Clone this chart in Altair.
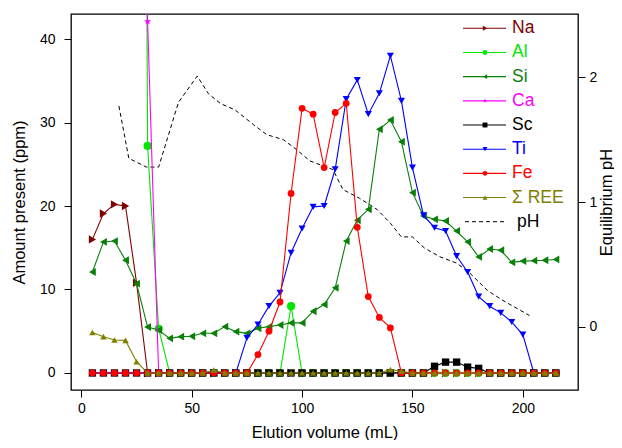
import altair as alt
import pandas as pd

# ---------------- data ----------------
volume = [5, 10, 15, 20, 25, 30, 35, 40, 45, 50, 55, 60, 65, 70, 75, 80, 85, 90, 95, 100,
          105, 110, 115, 120, 125, 130, 135, 140, 145, 150, 155, 160, 165, 170, 175, 180,
          185, 190, 195, 200, 205, 210, 215]

series_names = ["Na", "Al", "Si", "Ca", "Sc", "Ti", "Fe", "Σ REE"]

na = [16.0, 19.1, 20.2, 20.0, 10.8] + [0] * 38
al = [None, None, None, None, 300, 27.2, 5.3, 0, 0, 0, 0, 0, 0, 0, 0, 0, 0, 0, 8.0, 0] + [0] * 23
si = [12.1, 15.7, 15.8, 13.5, 10.7, 5.5, 5.15, 4.15, 4.35, 4.4,
      4.75, 4.75, 5.55, 4.95, 4.75, 5.35, 5.55, 5.75, 6.0, 6.0,
      7.4, 8.2, 10.2, 15.8, 18.3, 19.6, 29.2, 30.3, 27.7, 21.6,
      18.8, 18.4, 18.2, 17.0, 15.7, 13.9, 14.85, 14.7, 13.25, 13.4,
      13.45, 13.5, 13.6]
ca = [None, None, None, None, 300, 42.1] + [0] * 37
sc = [0] * 31 + [0.8, 1.3, 1.3, 0.7, 0.55] + [0] * 7
ti = [0] * 14 + [4.2, 5.8, 8.0, 9.6, 14.4, 17.3, 19.9, 20.0, 24.4, 32.8,
                 35.1, 31.0, 33.5, 38.0, 32.6, 24.6, 18.9, 17.4, 17.0, 14.0,
                 12.1, 9.15, 8.0, 7.2, 6.1, 4.6] + [0, 0, 0]
fe = [0] * 15 + [2.2, 5.0, 8.5, 21.5, 31.7, 31.0, 24.6, 31.2, 32.3, 17.45,
                 9.15, 6.65, 5.4] + [0] * 15
ree = [4.85, 4.35, 3.95, 3.9, 1.35, 0, 0, 0, 0, 0, 0, 0.35] + [0] * 15 + [0.4, 0.2] + [0] * 14

ph_volume = [17, 21.5, 29.5, 35, 44, 52.5, 57.5, 63, 69.5, 78, 84, 91.5, 97.5, 103.5,
             114, 118.5, 126, 134, 140, 145, 150, 155.5, 162.5, 170, 176, 184, 191, 197, 203]
ph_values = [1.77, 1.35, 1.28, 1.28, 1.80, 2.01, 1.87, 1.79, 1.74, 1.62, 1.54, 1.50, 1.42, 1.33,
             1.26, 1.10, 1.03, 0.94, 0.83, 0.72, 0.72, 0.63, 0.56, 0.51, 0.43, 0.29, 0.21, 0.15, 0.09]

x_ticks = [0, 50, 100, 150, 200]
y_ticks = [0, 10, 20, 30, 40]
ph_ticks = [0, 1, 2]

# ---------------- styles ----------------
FONT = "Liberation Sans"
colors = ["#800000", "#00e600", "#0a800a", "#ff00ff", "#000000", "#0000ff", "#ff0000", "#808000"]
STAR = "M0,-1L0.2245,-0.309L0.951,-0.309L0.363,0.118L0.588,0.809L0,0.382L-0.588,0.809L-0.363,0.118L-0.951,-0.309L-0.2245,-0.309Z"
shapes = ["triangle-right", "circle", "triangle-left", STAR, "square", "triangle-down", "circle", "triangle-up"]
sizes = [70, 42, 70, 70, 24, 70, 42, 70]

legend_names = series_names + ["pH"]

values_by_series = [na, al, si, ca, sc, ti, fe, ree]
rows = []
for name, vals in zip(series_names, values_by_series):
    for v, a in zip(volume, vals):
        if a is not None:
            rows.append({"volume": v, "amount": a, "series": name})
df = pd.DataFrame(rows)
ph_df = pd.DataFrame({"volume": ph_volume, "pH": ph_values})
leg_df = pd.DataFrame({"series": legend_names, "label": legend_names})

x_scale = alt.Scale(domain=[-4.7, 225], nice=False, zero=False)
x_enc = alt.X("volume:Q", scale=x_scale,
              axis=alt.Axis(values=x_ticks, title="Elution volume (mL)", labelPadding=4, titlePadding=9))
y_enc = alt.Y("amount:Q", scale=alt.Scale(domain=[-2.04, 43.0], nice=False, zero=False),
              axis=alt.Axis(values=y_ticks, title="Amount present (ppm)", orient="left",
                            labelPadding=9, titlePadding=12))
color_enc = alt.Color("series:N", scale=alt.Scale(domain=legend_names, range=colors + ["#000000"]), legend=None)
shape_enc = alt.Shape("series:N", scale=alt.Scale(domain=series_names, range=shapes), legend=None)
size_enc = alt.Size("series:N", scale=alt.Scale(domain=series_names, range=sizes), legend=None)

series_layers = []
for name in series_names:
    base = alt.Chart(df).transform_filter(alt.datum.series == name)
    series_layers.append(base.mark_line(strokeWidth=1.1, clip=True).encode(x=x_enc, y=y_enc, color=color_enc))
    series_layers.append(base.mark_point(filled=True, opacity=1, clip=True).encode(
        x=x_enc, y=y_enc, color=color_enc, shape=shape_enc, size=size_enc))
series_chart = alt.layer(*series_layers)

ph_chart = alt.Chart(ph_df).mark_line(strokeDash=[4, 3], strokeWidth=1, color="black", clip=True).encode(
    x=alt.X("volume:Q", scale=x_scale),
    y=alt.Y("pH:Q", scale=alt.Scale(domain=[-0.508, 2.508], nice=False, zero=False),
            axis=alt.Axis(orient="right", values=ph_ticks, title="Equilibrium pH",
                          titleAngle=270, titleBaseline="top", labelPadding=4, titlePadding=2)),
)

leg_y = alt.Y("series:N", scale=alt.Scale(type="point", domain=legend_names, range=[14.3, 207.7], padding=0),
              axis=None)
leg_base = alt.Chart(leg_df)
leg_lines = leg_base.transform_filter(alt.datum.series != "pH").mark_rule(strokeWidth=1.1).encode(
    x=alt.value(392), x2=alt.value(435), y=leg_y, color=color_enc)
leg_ph = leg_base.transform_filter(alt.datum.series == "pH").mark_rule(
    strokeWidth=1, strokeDash=[4, 3], color="black").encode(x=alt.value(394), x2=alt.value(435), y=leg_y)
leg_pts = leg_base.transform_filter(alt.datum.series != "pH").mark_point(filled=True, opacity=1, size=24).encode(
    x=alt.value(414), y=leg_y, color=color_enc, shape=shape_enc)
leg_txt = leg_base.transform_filter(alt.datum.series != "pH").mark_text(
    align="left", baseline="middle", fontSize=17.5, font=FONT).encode(
    x=alt.value(441), y=leg_y, text="label:N", color=color_enc)
leg_txt_ph = leg_base.transform_filter(alt.datum.series == "pH").mark_text(
    align="left", baseline="middle", fontSize=17.5, font=FONT).encode(
    x=alt.value(446), y=leg_y, text="label:N", color=color_enc)
legend_chart = alt.layer(leg_lines, leg_ph, leg_pts, leg_txt, leg_txt_ph)

chart = alt.layer(ph_chart, series_chart, legend_chart).resolve_scale(y="independent").properties(
    width=507, height=376,
    autosize=alt.AutoSizeParams(type="none"),
    padding={"left": 63, "top": 6, "right": 36, "bottom": 50},
).configure_view(stroke="black", strokeWidth=1.3).configure_axis(
    domain=False, grid=False, tickColor="black", tickSize=7, tickWidth=1,
    labelFont=FONT, labelFontSize=14, labelColor="black",
    titleFont=FONT, titleFontSize=16.5, titleFontWeight="normal", titleColor="black",
)

chart.save("out.html", embed_options={"renderer": "svg", "actions": False})
